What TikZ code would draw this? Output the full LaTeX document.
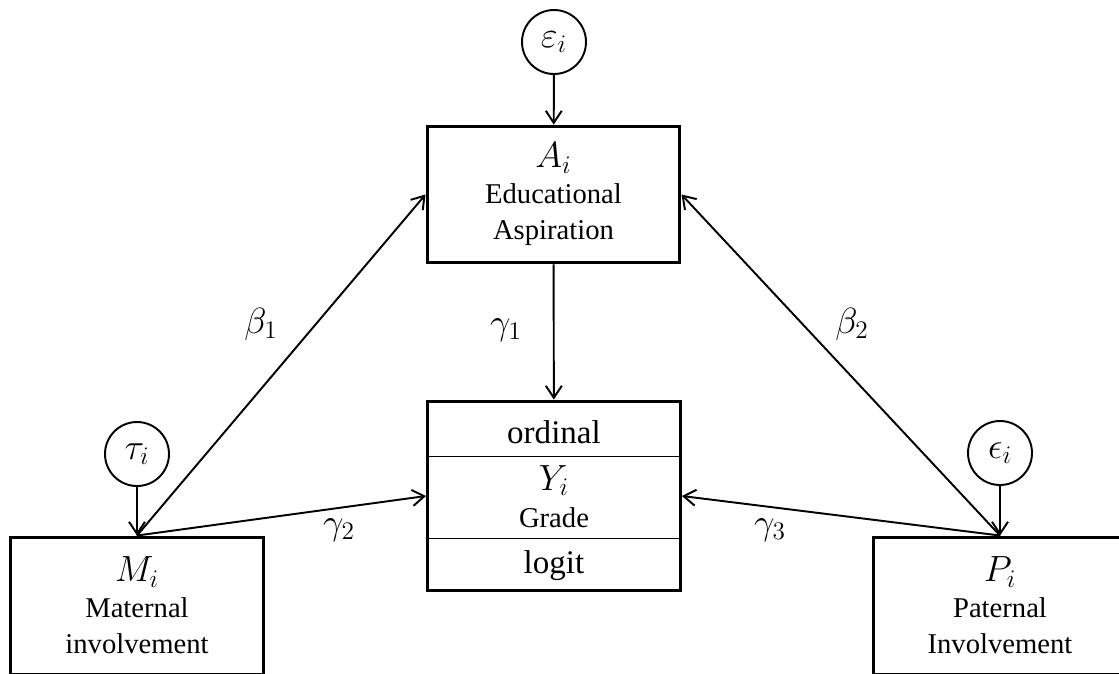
\documentclass[tikz,border=0pt]{standalone}
\usepackage{fontspec}
\setmainfont{Liberation Serif}
\usetikzlibrary{positioning,arrows.meta,calc}
\newcommand{\mvar}[1]{{\fontsize{20}{20}\selectfont$#1$}}

\begin{document}
\begin{tikzpicture}[
  x=0.02cm, y=-0.02cm,
  font=\fontsize{16.3}{20.5}\selectfont,
  var/.style={draw, line width=1.7pt, minimum width=5.06cm, minimum height=2.74cm, align=center, inner sep=0pt},
  err/.style={draw, circle, line width=1.1pt, minimum size=1.28cm, inner sep=0pt},
  ar/.style={-{Straight Barb[length=2.4mm, width=3.2mm]}, line width=1.1pt},
  sep/.style={line width=0.7pt},
  big/.style={font=\fontsize{18.8}{22}\selectfont},
  coef/.style={inner sep=0pt}
]
\useasboundingbox (0,0) rectangle (1119,673);
\clip (0,0) rectangle (1119,673);

% boxes
\node[var] (a) at (553.5,194.5) {\mvar{A_i}\\Educational\\Aspiration};
\node[var, minimum height=3.8cm] (y) at (554,496) {};
\node[var] (m) at (137,605.5) {\mvar{M_i}\\Maternal\\involvement};
\node[var] (p) at (1000,605.5) {\mvar{P_i}\\Paternal\\Involvement};

% error terms
\node[err] (ea) at (554,42) {\mvar{\varepsilon_i}};
\node[err] (em) at (137,454) {\mvar{\tau_i}};
\node[err] (ep) at (1000,453) {\mvar{\epsilon_i}};

% outcome box contents
\node[big, anchor=base] (ord) at (554,443) {ordinal};
\node[anchor=base] (yi) at (554,490) {\mvar{Y_i}};
\node[anchor=base] (gr) at (554,527) {Grade};
\node[big, anchor=base] (lg) at (554,573) {logit};
\draw[sep] ($(y.north west)+(0,57)$) -- ($(y.north east)+(0,57)$);
\draw[sep] ($(y.south west)+(0,-54)$) -- ($(y.south east)+(0,-54)$);

% paths
\draw[ar] (ea) -- (a);
\draw[ar] (a) -- (y);
\draw[ar] (em) -- (m);
\draw[ar] (ep) -- (p);
\draw[ar] (m.north) -- (a.west);
\draw[ar] (m.north) -- (y.west);
\draw[ar] (p.north) -- (a.east);
\draw[ar] (p.north) -- (y.east);

% coefficients
\node[coef] (b1) at (261,324) {\mvar{\beta_1}};
\node[coef] (g1) at (506,330) {\mvar{\gamma_1}};
\node[coef] (b2) at (852,324) {\mvar{\beta_2}};
\node[coef] (g2) at (339,530) {\mvar{\gamma_2}};
\node[coef] (g3) at (770,530) {\mvar{\gamma_3}};
\end{tikzpicture}
\end{document}
